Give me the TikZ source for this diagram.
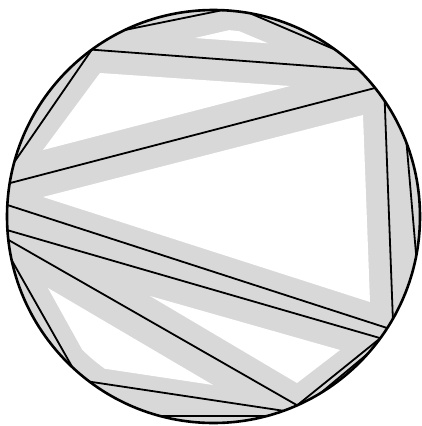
\documentclass[tikz,border=0pt]{standalone}
\usetikzlibrary{calc}
\definecolor{bandgray}{RGB}{216,216,216}
\begin{document}
\begin{tikzpicture}[x=1pt,y=-1pt,
  chord/.style={draw=black,line width=1.8pt},
  rim/.style={draw=black,line width=2.6pt},
  hole/.style={fill=white}]
\useasboundingbox (0,0) rectangle (421,426);
\coordinate (C) at (213.5,216.5);
\def\R{206.5pt}
\foreach \n/\a in {V0/115.4,V1/87.6,B/126.1,V2/79.8,V3/53.9,V4/45.4,V5/38.5,V6/34.0,V7/20.8,V8/-11.0,V9/-29.7,V10/-32.7,V11/-36.1,V12/-41.6,V13/-58.8,V14/-66.1,V15/-70.2,V16/-75.0,V17/-105.0,V18/233.1,V19/226.9,V20/192.2,V21/186.5,V22/183.8,V23/176.8,E/170.7,F/164.7}
  \coordinate (\n) at ($(C)+(\a:\R)$);
\fill[bandgray] (C) circle[radius=\R];
\begin{scope}
  \clip (C) circle[radius=187pt];
  \fill[hole] (195,38) -- (234,29) -- (268,43.3) -- cycle;
  \fill[hole] (100,73) -- (290,86) -- (43,150) -- cycle;
  \fill[hole] (43,197) -- (363,115) -- (370,302) -- cycle;
  \fill[hole] (150,296) -- (340,350) -- (297,383) -- cycle;
  \fill[hole] (48,288) -- (213,385) -- (100,368) -- (88,360) -- cycle;
\end{scope}
\draw[chord] (V0) -- (V1);
\draw[chord] (V2) -- (V3);
\draw[chord] (B) -- (V4);
\draw[chord] (B) -- (F);
\draw[chord] (E) -- (V5);
\draw[chord] (V6) -- (V9);
\draw[chord] (V7) -- (V8);
\draw[chord] (V23) -- (V10);
\draw[chord] (V22) -- (V11);
\draw[chord] (V21) -- (V14);
\draw[chord] (V20) -- (V19);
\draw[chord] (V18) -- (V15);
\draw[chord] (V17) -- (V16);
\draw[chord] (V11) -- (V14);
\draw[chord] (V12) -- (V13);
\draw[rim] (C) circle[radius=\R];
\end{tikzpicture}
\end{document}
